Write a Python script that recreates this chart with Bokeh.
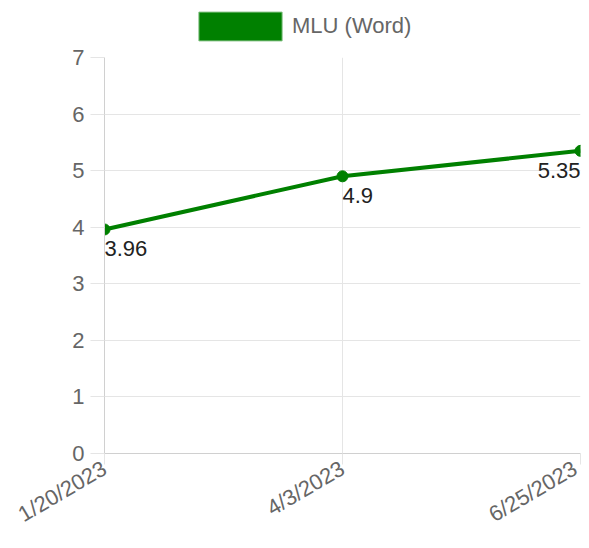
from bokeh.plotting import figure
from bokeh.layouts import column
from bokeh.models import ColumnDataSource, Range1d, FixedTicker, Legend, LegendItem
from bokeh.core.properties import value
from bokeh.embed import file_html
from bokeh.resources import INLINE

dates = ["1/20/2023", "4/3/2023", "6/25/2023"]
mlu_word = [3.96, 4.9, 5.35]
series_name = "MLU (Word)"
y_ticks = [0, 1, 2, 3, 4, 5, 6, 7]

xs = list(range(len(dates)))
src = ColumnDataSource(dict(x=xs, y=mlu_word, label=[str(v) for v in mlu_word]))
src_left = ColumnDataSource(dict(x=xs[:-1], y=mlu_word[:-1], label=[str(v) for v in mlu_word[:-1]]))
src_right = ColumnDataSource(dict(x=xs[-1:], y=mlu_word[-1:], label=[str(v) for v in mlu_word[-1:]]))

FONT = "Liberation Sans"
FS = "22px"
GREEN = "#008000"
GRID = "#e5e5e5"

# ---- legend strip ----
lg = figure(width=581, height=45, output_backend="svg", toolbar_location=None,
            x_range=Range1d(0, 1), y_range=Range1d(0, 1), x_axis_type=None, y_axis_type=None,
            min_border=0)
lg.outline_line_color = None
lg.grid.visible = False
# proxy renderer for the legend swatch, kept outside the strip's visible range
swatch = lg.vbar(x=[0.5], bottom=[-3], top=[-2], width=0.1, fill_color=GREEN,
                 line_color="#7fbf7f", line_width=1)
legend = Legend(items=[LegendItem(label=series_name, renderers=[swatch])],
                location=(84, 1), orientation="horizontal",
                glyph_width=104, glyph_height=36, label_standoff=0,
                padding=0, margin=0,
                label_text_font=FONT, label_text_font_size=FS, label_text_color="#666666",
                border_line_alpha=0, background_fill_alpha=0)
lg.add_layout(legend, "center")

# ---- main chart ----
p = figure(width=581, height=495, output_backend="svg", toolbar_location=None,
           x_range=Range1d(0, len(dates) - 1), y_range=Range1d(0, 7),
           min_border_left=104, min_border_right=1, min_border_top=12, min_border_bottom=84)
p.outline_line_color = None

p.xaxis.ticker = FixedTicker(ticks=xs)
p.xaxis.major_label_overrides = {i: d for i, d in enumerate(dates)}
p.xaxis.major_label_orientation = 0.53
p.yaxis.ticker = FixedTicker(ticks=y_ticks)
for ax in (p.xaxis[0], p.yaxis[0]):
    ax.axis_line_color = "#d0d0d0"
    ax.major_tick_line_color = GRID
    ax.minor_tick_line_color = None
    ax.major_tick_in = 0
    ax.major_label_text_font = FONT
    ax.major_label_text_font_size = FS
    ax.major_label_text_color = "#666666"
p.yaxis.major_tick_out = 14
p.yaxis.major_label_standoff = 6
p.xaxis.major_tick_out = 11
p.xaxis.major_label_standoff = 2

p.xgrid.ticker = FixedTicker(ticks=xs)
p.ygrid.ticker = FixedTicker(ticks=y_ticks)
p.xgrid.grid_line_color = GRID
p.ygrid.grid_line_color = GRID

p.line("x", "y", source=src, line_color=GREEN, line_width=4)
p.scatter("x", "y", source=src, size=11, fill_color=GREEN, line_color=GREEN)

for s, align in ((src_left, "left"), (src_right, "right")):
    p.text("x", "y", text="label", source=s, text_font=value(FONT), text_font_size=FS,
           text_color="#222222", text_align=align, text_baseline="top", y_offset=12)

layout = column(lg, p, spacing=0)
open("out.html", "w").write(file_html(layout, INLINE))
